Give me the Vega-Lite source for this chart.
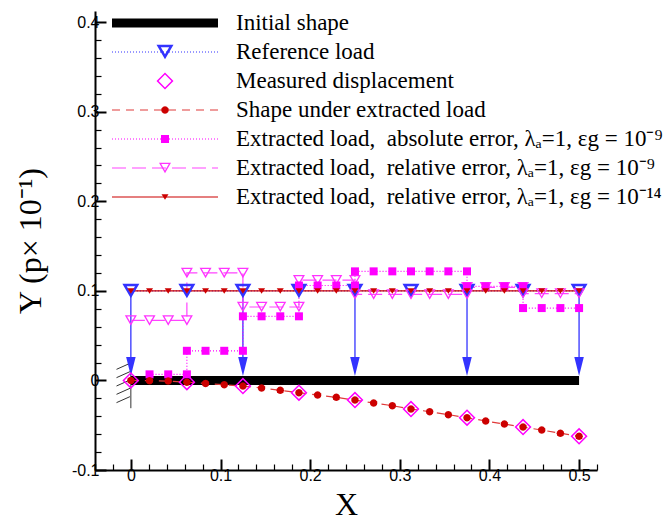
{
  "$schema": "https://vega.github.io/schema/vega-lite/v6.json",
  "width": 502,
  "height": 459,
  "autosize": {"type": "none"},
  "padding": {"left": 95, "top": 11, "right": 73, "bottom": 52},
  "background": "white",
  "config": {
    "view": {"stroke": null},
    "axis": {"grid": false, "domainColor": "black", "tickColor": "black", "labelColor": "black"}
  },
  "datasets": {
    "support": [
      {"x": 0, "y": 0.02, "x2": 0, "y2": -0.031},
      {"x": -0.016, "y": 0.0124, "x2": -0.001, "y2": 0.0191},
      {"x": -0.016, "y": 0.0031, "x2": -0.001, "y2": 0.0098},
      {"x": -0.016, "y": -0.0062, "x2": -0.001, "y2": 0.0005},
      {"x": -0.016, "y": -0.0155, "x2": -0.001, "y2": -0.0088},
      {"x": -0.016, "y": -0.0248, "x2": -0.001, "y2": -0.0181}
    ],
    "initial": [{"x": 0, "y": 0}, {"x": 0.5, "y": 0}],
    "arrows": [
      {"x": 0, "y": 0.1}, {"x": 0.125, "y": 0.1}, {"x": 0.25, "y": 0.1}, {"x": 0.375, "y": 0.1}, {"x": 0.5, "y": 0.1}
    ],
    "lines": [
      {"s": "reference", "x": 0, "y": 0.1}, {"s": "reference", "x": 0.0625, "y": 0.1}, {"s": "reference", "x": 0.125, "y": 0.1},
      {"s": "reference", "x": 0.1875, "y": 0.1}, {"s": "reference", "x": 0.25, "y": 0.1}, {"s": "reference", "x": 0.3125, "y": 0.1},
      {"s": "reference", "x": 0.375, "y": 0.1}, {"s": "reference", "x": 0.4375, "y": 0.1}, {"s": "reference", "x": 0.5, "y": 0.1},
      {"s": "shape", "x": 0, "y": 0}, {"s": "shape", "x": 0.020833, "y": -0.0003}, {"s": "shape", "x": 0.041667, "y": -0.0007},
      {"s": "shape", "x": 0.0625, "y": -0.002}, {"s": "shape", "x": 0.083333, "y": -0.0033}, {"s": "shape", "x": 0.104167, "y": -0.0048},
      {"s": "shape", "x": 0.125, "y": -0.0063}, {"s": "shape", "x": 0.145833, "y": -0.0085}, {"s": "shape", "x": 0.166667, "y": -0.011},
      {"s": "shape", "x": 0.1875, "y": -0.0137}, {"s": "shape", "x": 0.208333, "y": -0.0163}, {"s": "shape", "x": 0.229167, "y": -0.0189},
      {"s": "shape", "x": 0.25, "y": -0.0219}, {"s": "shape", "x": 0.270833, "y": -0.0252}, {"s": "shape", "x": 0.291667, "y": -0.0282},
      {"s": "shape", "x": 0.3125, "y": -0.0319}, {"s": "shape", "x": 0.333333, "y": -0.0349}, {"s": "shape", "x": 0.354167, "y": -0.0382},
      {"s": "shape", "x": 0.375, "y": -0.0416}, {"s": "shape", "x": 0.395833, "y": -0.0453}, {"s": "shape", "x": 0.416667, "y": -0.0487},
      {"s": "shape", "x": 0.4375, "y": -0.052}, {"s": "shape", "x": 0.458333, "y": -0.0554}, {"s": "shape", "x": 0.479167, "y": -0.059},
      {"s": "shape", "x": 0.5, "y": -0.0624},
      {"s": "absolute", "x": 0.020833, "y": 0.0068}, {"s": "absolute", "x": 0.041667, "y": 0.0068}, {"s": "absolute", "x": 0.0625, "y": 0.0068},
      {"s": "absolute", "x": 0.0625, "y": 0.0331}, {"s": "absolute", "x": 0.083333, "y": 0.0331}, {"s": "absolute", "x": 0.104167, "y": 0.0331},
      {"s": "absolute", "x": 0.125, "y": 0.0331}, {"s": "absolute", "x": 0.125, "y": 0.0716}, {"s": "absolute", "x": 0.145833, "y": 0.0716},
      {"s": "absolute", "x": 0.166667, "y": 0.0716}, {"s": "absolute", "x": 0.1875, "y": 0.0716}, {"s": "absolute", "x": 0.1875, "y": 0.106},
      {"s": "absolute", "x": 0.208333, "y": 0.106}, {"s": "absolute", "x": 0.229167, "y": 0.106}, {"s": "absolute", "x": 0.25, "y": 0.106},
      {"s": "absolute", "x": 0.25, "y": 0.1218}, {"s": "absolute", "x": 0.270833, "y": 0.1218}, {"s": "absolute", "x": 0.291667, "y": 0.1218},
      {"s": "absolute", "x": 0.3125, "y": 0.1218}, {"s": "absolute", "x": 0.333333, "y": 0.1218}, {"s": "absolute", "x": 0.354167, "y": 0.1218},
      {"s": "absolute", "x": 0.375, "y": 0.1218}, {"s": "absolute", "x": 0.375, "y": 0.105}, {"s": "absolute", "x": 0.395833, "y": 0.105},
      {"s": "absolute", "x": 0.416667, "y": 0.105}, {"s": "absolute", "x": 0.4375, "y": 0.105}, {"s": "absolute", "x": 0.4375, "y": 0.0808},
      {"s": "absolute", "x": 0.458333, "y": 0.0808}, {"s": "absolute", "x": 0.479167, "y": 0.0808}, {"s": "absolute", "x": 0.5, "y": 0.0808},
      {"s": "relative9", "x": 0, "y": 0.067}, {"s": "relative9", "x": 0.020833, "y": 0.067}, {"s": "relative9", "x": 0.041667, "y": 0.067},
      {"s": "relative9", "x": 0.0625, "y": 0.067}, {"s": "relative9", "x": 0.0625, "y": 0.12}, {"s": "relative9", "x": 0.083333, "y": 0.12},
      {"s": "relative9", "x": 0.104167, "y": 0.12}, {"s": "relative9", "x": 0.125, "y": 0.12}, {"s": "relative9", "x": 0.125, "y": 0.082},
      {"s": "relative9", "x": 0.145833, "y": 0.082}, {"s": "relative9", "x": 0.166667, "y": 0.082}, {"s": "relative9", "x": 0.1875, "y": 0.082},
      {"s": "relative9", "x": 0.1875, "y": 0.112}, {"s": "relative9", "x": 0.208333, "y": 0.112}, {"s": "relative9", "x": 0.229167, "y": 0.112},
      {"s": "relative9", "x": 0.25, "y": 0.112}, {"s": "relative9", "x": 0.25, "y": 0.096}, {"s": "relative9", "x": 0.270833, "y": 0.096},
      {"s": "relative9", "x": 0.291667, "y": 0.096}, {"s": "relative9", "x": 0.3125, "y": 0.096}, {"s": "relative9", "x": 0.333333, "y": 0.096},
      {"s": "relative9", "x": 0.354167, "y": 0.096}, {"s": "relative9", "x": 0.375, "y": 0.096}, {"s": "relative9", "x": 0.375, "y": 0.104},
      {"s": "relative9", "x": 0.395833, "y": 0.104}, {"s": "relative9", "x": 0.416667, "y": 0.104}, {"s": "relative9", "x": 0.4375, "y": 0.104},
      {"s": "relative9", "x": 0.4375, "y": 0.097}, {"s": "relative9", "x": 0.458333, "y": 0.097}, {"s": "relative9", "x": 0.479167, "y": 0.097},
      {"s": "relative9", "x": 0.5, "y": 0.097},
      {"s": "relative14", "x": 0, "y": 0.1}, {"s": "relative14", "x": 0.020833, "y": 0.1}, {"s": "relative14", "x": 0.041667, "y": 0.1},
      {"s": "relative14", "x": 0.0625, "y": 0.1}, {"s": "relative14", "x": 0.083333, "y": 0.1}, {"s": "relative14", "x": 0.104167, "y": 0.1},
      {"s": "relative14", "x": 0.125, "y": 0.1}, {"s": "relative14", "x": 0.145833, "y": 0.1}, {"s": "relative14", "x": 0.166667, "y": 0.1},
      {"s": "relative14", "x": 0.1875, "y": 0.1}, {"s": "relative14", "x": 0.208333, "y": 0.1}, {"s": "relative14", "x": 0.229167, "y": 0.1},
      {"s": "relative14", "x": 0.25, "y": 0.1}, {"s": "relative14", "x": 0.270833, "y": 0.1}, {"s": "relative14", "x": 0.291667, "y": 0.1},
      {"s": "relative14", "x": 0.3125, "y": 0.1}, {"s": "relative14", "x": 0.333333, "y": 0.1}, {"s": "relative14", "x": 0.354167, "y": 0.1},
      {"s": "relative14", "x": 0.375, "y": 0.1}, {"s": "relative14", "x": 0.395833, "y": 0.1}, {"s": "relative14", "x": 0.416667, "y": 0.1},
      {"s": "relative14", "x": 0.4375, "y": 0.1}, {"s": "relative14", "x": 0.458333, "y": 0.1}, {"s": "relative14", "x": 0.479167, "y": 0.1},
      {"s": "relative14", "x": 0.5, "y": 0.1}
    ],
    "markers": [
      {"m": "ref", "x": 0, "y": 0.1}, {"m": "ref", "x": 0.0625, "y": 0.1}, {"m": "ref", "x": 0.125, "y": 0.1},
      {"m": "ref", "x": 0.1875, "y": 0.1}, {"m": "ref", "x": 0.25, "y": 0.1}, {"m": "ref", "x": 0.3125, "y": 0.1},
      {"m": "ref", "x": 0.375, "y": 0.1}, {"m": "ref", "x": 0.4375, "y": 0.1}, {"m": "ref", "x": 0.5, "y": 0.1},
      {"m": "meas", "x": 0, "y": 0}, {"m": "meas", "x": 0.0625, "y": -0.002}, {"m": "meas", "x": 0.125, "y": -0.0063},
      {"m": "meas", "x": 0.1875, "y": -0.0137}, {"m": "meas", "x": 0.25, "y": -0.0219}, {"m": "meas", "x": 0.3125, "y": -0.0319},
      {"m": "meas", "x": 0.375, "y": -0.0416}, {"m": "meas", "x": 0.4375, "y": -0.052}, {"m": "meas", "x": 0.5, "y": -0.0624},
      {"m": "r9", "x": 0, "y": 0.067}, {"m": "r9", "x": 0.020833, "y": 0.067}, {"m": "r9", "x": 0.041667, "y": 0.067},
      {"m": "r9", "x": 0.0625, "y": 0.067}, {"m": "r9", "x": 0.0625, "y": 0.12}, {"m": "r9", "x": 0.083333, "y": 0.12},
      {"m": "r9", "x": 0.104167, "y": 0.12}, {"m": "r9", "x": 0.125, "y": 0.12}, {"m": "r9", "x": 0.125, "y": 0.082},
      {"m": "r9", "x": 0.145833, "y": 0.082}, {"m": "r9", "x": 0.166667, "y": 0.082}, {"m": "r9", "x": 0.1875, "y": 0.082},
      {"m": "r9", "x": 0.1875, "y": 0.112}, {"m": "r9", "x": 0.208333, "y": 0.112}, {"m": "r9", "x": 0.229167, "y": 0.112},
      {"m": "r9", "x": 0.25, "y": 0.112}, {"m": "r9", "x": 0.25, "y": 0.096}, {"m": "r9", "x": 0.270833, "y": 0.096},
      {"m": "r9", "x": 0.291667, "y": 0.096}, {"m": "r9", "x": 0.3125, "y": 0.096}, {"m": "r9", "x": 0.333333, "y": 0.096},
      {"m": "r9", "x": 0.354167, "y": 0.096}, {"m": "r9", "x": 0.375, "y": 0.096}, {"m": "r9", "x": 0.375, "y": 0.104},
      {"m": "r9", "x": 0.395833, "y": 0.104}, {"m": "r9", "x": 0.416667, "y": 0.104}, {"m": "r9", "x": 0.4375, "y": 0.104},
      {"m": "r9", "x": 0.4375, "y": 0.097}, {"m": "r9", "x": 0.458333, "y": 0.097}, {"m": "r9", "x": 0.479167, "y": 0.097},
      {"m": "r9", "x": 0.5, "y": 0.097},
      {"m": "abs", "x": 0.020833, "y": 0.0068}, {"m": "abs", "x": 0.041667, "y": 0.0068}, {"m": "abs", "x": 0.0625, "y": 0.0068},
      {"m": "abs", "x": 0.0625, "y": 0.0331}, {"m": "abs", "x": 0.083333, "y": 0.0331}, {"m": "abs", "x": 0.104167, "y": 0.0331},
      {"m": "abs", "x": 0.125, "y": 0.0331}, {"m": "abs", "x": 0.125, "y": 0.0716}, {"m": "abs", "x": 0.145833, "y": 0.0716},
      {"m": "abs", "x": 0.166667, "y": 0.0716}, {"m": "abs", "x": 0.1875, "y": 0.0716}, {"m": "abs", "x": 0.1875, "y": 0.106},
      {"m": "abs", "x": 0.208333, "y": 0.106}, {"m": "abs", "x": 0.229167, "y": 0.106}, {"m": "abs", "x": 0.25, "y": 0.106},
      {"m": "abs", "x": 0.25, "y": 0.1218}, {"m": "abs", "x": 0.270833, "y": 0.1218}, {"m": "abs", "x": 0.291667, "y": 0.1218},
      {"m": "abs", "x": 0.3125, "y": 0.1218}, {"m": "abs", "x": 0.333333, "y": 0.1218}, {"m": "abs", "x": 0.354167, "y": 0.1218},
      {"m": "abs", "x": 0.375, "y": 0.1218}, {"m": "abs", "x": 0.375, "y": 0.105}, {"m": "abs", "x": 0.395833, "y": 0.105},
      {"m": "abs", "x": 0.416667, "y": 0.105}, {"m": "abs", "x": 0.4375, "y": 0.105}, {"m": "abs", "x": 0.4375, "y": 0.0808},
      {"m": "abs", "x": 0.458333, "y": 0.0808}, {"m": "abs", "x": 0.479167, "y": 0.0808}, {"m": "abs", "x": 0.5, "y": 0.0808},
      {"m": "shp", "x": 0, "y": 0}, {"m": "shp", "x": 0.020833, "y": -0.0003}, {"m": "shp", "x": 0.041667, "y": -0.0007},
      {"m": "shp", "x": 0.0625, "y": -0.002}, {"m": "shp", "x": 0.083333, "y": -0.0033}, {"m": "shp", "x": 0.104167, "y": -0.0048},
      {"m": "shp", "x": 0.125, "y": -0.0063}, {"m": "shp", "x": 0.145833, "y": -0.0085}, {"m": "shp", "x": 0.166667, "y": -0.011},
      {"m": "shp", "x": 0.1875, "y": -0.0137}, {"m": "shp", "x": 0.208333, "y": -0.0163}, {"m": "shp", "x": 0.229167, "y": -0.0189},
      {"m": "shp", "x": 0.25, "y": -0.0219}, {"m": "shp", "x": 0.270833, "y": -0.0252}, {"m": "shp", "x": 0.291667, "y": -0.0282},
      {"m": "shp", "x": 0.3125, "y": -0.0319}, {"m": "shp", "x": 0.333333, "y": -0.0349}, {"m": "shp", "x": 0.354167, "y": -0.0382},
      {"m": "shp", "x": 0.375, "y": -0.0416}, {"m": "shp", "x": 0.395833, "y": -0.0453}, {"m": "shp", "x": 0.416667, "y": -0.0487},
      {"m": "shp", "x": 0.4375, "y": -0.052}, {"m": "shp", "x": 0.458333, "y": -0.0554}, {"m": "shp", "x": 0.479167, "y": -0.059},
      {"m": "shp", "x": 0.5, "y": -0.0624},
      {"m": "r14", "x": 0, "y": 0.1}, {"m": "r14", "x": 0.020833, "y": 0.1}, {"m": "r14", "x": 0.041667, "y": 0.1},
      {"m": "r14", "x": 0.0625, "y": 0.1}, {"m": "r14", "x": 0.083333, "y": 0.1}, {"m": "r14", "x": 0.104167, "y": 0.1},
      {"m": "r14", "x": 0.125, "y": 0.1}, {"m": "r14", "x": 0.145833, "y": 0.1}, {"m": "r14", "x": 0.166667, "y": 0.1},
      {"m": "r14", "x": 0.1875, "y": 0.1}, {"m": "r14", "x": 0.208333, "y": 0.1}, {"m": "r14", "x": 0.229167, "y": 0.1},
      {"m": "r14", "x": 0.25, "y": 0.1}, {"m": "r14", "x": 0.270833, "y": 0.1}, {"m": "r14", "x": 0.291667, "y": 0.1},
      {"m": "r14", "x": 0.3125, "y": 0.1}, {"m": "r14", "x": 0.333333, "y": 0.1}, {"m": "r14", "x": 0.354167, "y": 0.1},
      {"m": "r14", "x": 0.375, "y": 0.1}, {"m": "r14", "x": 0.395833, "y": 0.1}, {"m": "r14", "x": 0.416667, "y": 0.1},
      {"m": "r14", "x": 0.4375, "y": 0.1}, {"m": "r14", "x": 0.458333, "y": 0.1}, {"m": "r14", "x": 0.479167, "y": 0.1},
      {"m": "r14", "x": 0.5, "y": 0.1}
    ]
  },
  "encoding": {
    "x": {"field": "x", "type": "quantitative", "scale": {"domain": [-0.04, 0.52], "nice": false, "zero": false}, "axis": null},
    "y": {"field": "y", "type": "quantitative", "scale": {"domain": [-0.1, 0.4125], "nice": false, "zero": false}, "axis": null}
  },
  "layer": [
    {
      "data": {"name": "support"},
      "mark": {"type": "rule", "color": "#333333", "strokeWidth": 1},
      "encoding": {
        "x": {"field": "x", "type": "quantitative", "scale": {"domain": [-0.04, 0.52], "nice": false, "zero": false},
          "axis": {"orient": "bottom", "values": [-0.04, -0.02, 0.02, 0.04, 0.06, 0.08, 0.12, 0.14, 0.16, 0.18, 0.22, 0.24, 0.26, 0.28, 0.32, 0.34, 0.36, 0.38, 0.42, 0.44, 0.46, 0.48, 0.52],
            "tickSize": -6, "tickWidth": 1.2, "labels": false, "domain": false, "title": null, "grid": false}},
        "y": {"field": "y", "type": "quantitative", "scale": {"domain": [-0.1, 0.4125], "nice": false, "zero": false},
          "axis": {"orient": "left", "values": [-0.08, -0.06, -0.04, -0.02, 0.02, 0.04, 0.06, 0.08, 0.12, 0.14, 0.16, 0.18, 0.22, 0.24, 0.26, 0.28, 0.32, 0.34, 0.36, 0.38],
            "tickSize": -6, "tickWidth": 1.2, "labels": false, "domain": false, "title": null, "grid": false}},
        "x2": {"field": "x2"},
        "y2": {"field": "y2"}
      }
    },
    {
      "data": {"name": "initial"},
      "mark": {"type": "line", "color": "black", "strokeWidth": 9, "strokeCap": "butt"},
      "encoding": {
        "x": {"field": "x", "type": "quantitative", "scale": {"domain": [-0.04, 0.52], "nice": false, "zero": false},
          "axis": {"orient": "bottom", "values": [0, 0.1, 0.2, 0.3, 0.4, 0.5], "tickSize": -11, "tickWidth": 2, "domainWidth": 2,
            "labelFont": "Liberation Sans", "labelFontSize": 16, "labelPadding": 8, "labelExpr": "toString(datum.value)",
            "labelFlush": false, "labelOverlap": false, "title": "X", "titleFont": "Liberation Serif", "titleFontSize": 32,
            "titleFontWeight": "normal", "titleColor": "black", "titleX": 251, "titleY": 44, "titleBaseline": "alphabetic", "titleAlign": "center"}},
        "y": {"field": "y", "type": "quantitative", "scale": {"domain": [-0.1, 0.4125], "nice": false, "zero": false},
          "axis": {"orient": "left", "values": [-0.1, 0, 0.1, 0.2, 0.3, 0.4], "tickSize": -11, "tickWidth": 2, "domainWidth": 2,
            "labelFont": "Liberation Sans", "labelFontSize": 16, "labelPadding": 7, "labelExpr": "toString(datum.value)",
            "labelFlush": false, "labelOverlap": false, "title": "Y (p× 10⁻¹)", "titleFont": "Liberation Serif", "titleFontSize": 32,
            "titleFontWeight": "normal", "titleColor": "black", "titleX": -55, "titleY": 229.5, "titleAngle": -90,
            "titleBaseline": "alphabetic", "titleAlign": "center"}}
      }
    },
    {
      "data": {"name": "arrows"},
      "mark": {"type": "rule", "color": "#3333ff", "strokeWidth": 1.3},
      "encoding": {"y2": {"datum": 0.01}}
    },
    {
      "data": {"name": "arrows"},
      "mark": {"type": "point", "shape": "M-0.5,-1L0.5,-1L0,1Z", "size": 361, "filled": true, "color": "#3333ff", "opacity": 1, "strokeWidth": 0},
      "encoding": {"y": {"datum": 0.0155, "type": "quantitative", "axis": null}}
    },
    {
      "data": {"name": "lines"},
      "mark": {"type": "line", "strokeWidth": 1.2},
      "encoding": {
        "color": {"field": "s", "type": "nominal",
          "scale": {"domain": ["initial", "reference", "measured", "shape", "absolute", "relative9", "relative14"],
            "range": ["transparent", "#3333ff", "transparent", "#e03a3a", "#ff00ff", "#ff44ff", "#cc0000"]},
          "legend": {"orient": "none", "legendX": 58.5, "legendY": 0.5, "title": null, "padding": 0,
            "symbolType": "M-5.3,0L5.3,0", "symbolSize": 400, "symbolStrokeWidth": 1.2, "symbolOpacity": 1,
            "labelFont": "Liberation Serif", "labelFontSize": 23, "labelColor": "black", "labelOffset": 59.5, "labelLimit": 700, "rowPadding": 5,
            "labelExpr": "datum.label == 'initial' ? 'Initial shape' : datum.label == 'reference' ? 'Reference load' : datum.label == 'measured' ? 'Measured displacement' : datum.label == 'shape' ? 'Shape under extracted load' : datum.label == 'absolute' ? 'Extracted load,\u00a0 absolute error, λₐ=1, εg = 10⁻⁹' : datum.label == 'relative9' ? 'Extracted load,\u00a0 relative error, λₐ=1, εg = 10⁻⁹' : 'Extracted load,\u00a0 relative error, λₐ=1, εg = 10⁻¹⁴'"}},
        "strokeDash": {"field": "s", "type": "nominal",
          "scale": {"domain": ["initial", "reference", "measured", "shape", "absolute", "relative9", "relative14"],
            "range": [[1, 0], [1, 2], [1, 0], [8, 6], [1, 2], [14, 6], [1, 0]]}},
        "order": {"value": null}
      }
    },
    {
      "data": {"name": "markers"},
      "mark": {"type": "point", "size": 400, "filled": true, "opacity": 1, "strokeWidth": 0},
      "encoding": {
        "shape": {"field": "m", "type": "nominal",
          "scale": {"domain": ["init", "ref", "meas", "shp", "abs", "r9", "r14"],
            "range": [
              "M-5.3,-0.45L5.3,-0.45L5.3,0.45L-5.3,0.45Z",
              "M-0.85,-0.725L0.85,-0.725L0,0.725ZM-0.414,-0.475L0,0.231L0.414,-0.475Z",
              "M0,-0.85L0.85,0L0,0.85L-0.85,0ZM0,-0.638L-0.638,0L0,0.638L0.638,0Z",
              "M0.375,0L0.325,0.1875L0.1875,0.325L0,0.375L-0.1875,0.325L-0.325,0.1875L-0.375,0L-0.325,-0.1875L-0.1875,-0.325L0,-0.375L0.1875,-0.325L0.325,-0.1875Z",
              "M-0.4,-0.4L0.4,-0.4L0.4,0.4L-0.4,0.4Z",
              "M-0.6,-0.525L0.6,-0.525L0,0.525ZM-0.376,-0.395L0,0.262L0.376,-0.395Z",
              "M-0.35,-0.275L0.35,-0.275L0,0.275Z"
            ]},
          "legend": {"orient": "none", "legendX": 58.5, "legendY": 0.5, "title": null, "padding": 0,
            "symbolSize": 400, "symbolStrokeWidth": 0, "symbolOpacity": 1,
            "labelFont": "Liberation Serif", "labelFontSize": 23, "labelColor": "transparent", "labelOffset": 59.5, "rowPadding": 5,
            "labelExpr": "' '"}},
        "fill": {"field": "m", "type": "nominal",
          "scale": {"domain": ["init", "ref", "meas", "shp", "abs", "r9", "r14"],
            "range": ["black", "#3333ff", "#ff00ff", "#cc0000", "#ff00ff", "#ff33ff", "#cc0000"]}}
      }
    }
  ],
  "resolve": {"axis": {"x": "independent", "y": "independent"}}
}
